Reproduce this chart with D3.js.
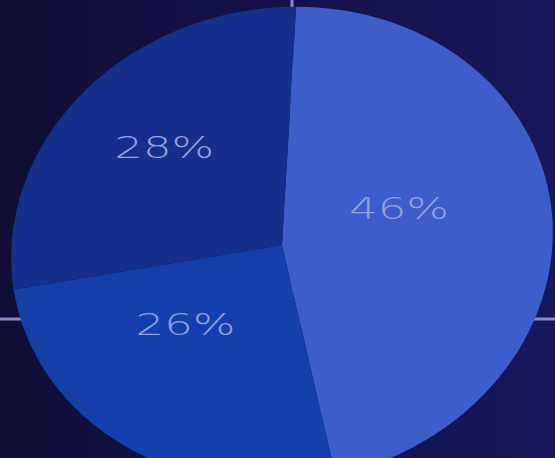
<!DOCTYPE html>
<html>
<head>
<meta charset="utf-8">
<script src="https://cdn.jsdelivr.net/npm/d3@7"></script>
<style>
  html, body { margin: 0; padding: 0; background: #131248; }
  svg { display: block; }
</style>
</head>
<body>
<svg id="svg"></svg>
<script>
const labels = ["46%", "26%", "28%"]
const values = [46, 26, 28]
const colors = ["#3d5dc8", "#1340a9", "#12308c"]

const width = 555, height = 458
const cx = 282, cy = 245          // centre of the tilted ellipse
const tilt = -11                  // degrees
const rx = 272, ry = 237          // semi axes
const r = 100

const svg = d3.select("#svg").attr("width", width).attr("height", height)

const defs = svg.append("defs")
const bg = defs.append("linearGradient").attr("id", "bg")
bg.append("stop").attr("offset", "0%").attr("stop-color", "#0f0e37")
bg.append("stop").attr("offset", "100%").attr("stop-color", "#17175a")

svg.append("rect").attr("width", width).attr("height", height).attr("fill", "url(#bg)")

// axis cross behind the pie
svg.append("line")
  .attr("x1", 292).attr("x2", 292).attr("y1", 0).attr("y2", height)
  .attr("stroke", "#8c89c4").attr("stroke-width", 3)
svg.append("line")
  .attr("x1", 0).attr("x2", width).attr("y1", 319).attr("y2", 319)
  .attr("stroke", "#8c89c4").attr("stroke-width", 3)

const start = 0.22
const pie = d3.pie().sort(null).startAngle(start).endAngle(start + 2 * Math.PI)
const arcs = pie(values)

const arc = d3.arc().innerRadius(0).outerRadius(r)
const labelArc = d3.arc().innerRadius(0).outerRadius(r)

const sx = rx / r, sy = ry / r
const chart = svg.append("g")
  .attr("transform", `translate(${cx},${cy}) rotate(${tilt}) scale(${sx},${sy})`)

chart.selectAll("path")
  .data(arcs)
  .enter()
  .append("path")
  .attr("d", arc)
  .attr("fill", (d, i) => colors[i])

const rad = tilt * Math.PI / 180
function place(p) {
  const x = p[0] * sx, y = p[1] * sy
  return [cx - 18 + x * Math.cos(rad) - y * Math.sin(rad),
          cy - 22 + x * Math.sin(rad) + y * Math.cos(rad)]
}

svg.selectAll("text.label")
  .data(arcs)
  .enter()
  .append("text")
  .classed("label", true)
  .attr("x", d => place(labelArc.centroid(d))[0])
  .attr("y", d => place(labelArc.centroid(d))[1])
  .attr("text-anchor", "middle")
  .attr("dominant-baseline", "central")
  .attr("font-family", "DejaVu Sans")
  .attr("font-weight", 200)
  .attr("font-size", 31)
  .attr("textLength", 100)
  .attr("lengthAdjust", "spacingAndGlyphs")
  .attr("fill", "#93a0de")
  .text((d, i) => labels[i])
</script>
</body>
</html>
